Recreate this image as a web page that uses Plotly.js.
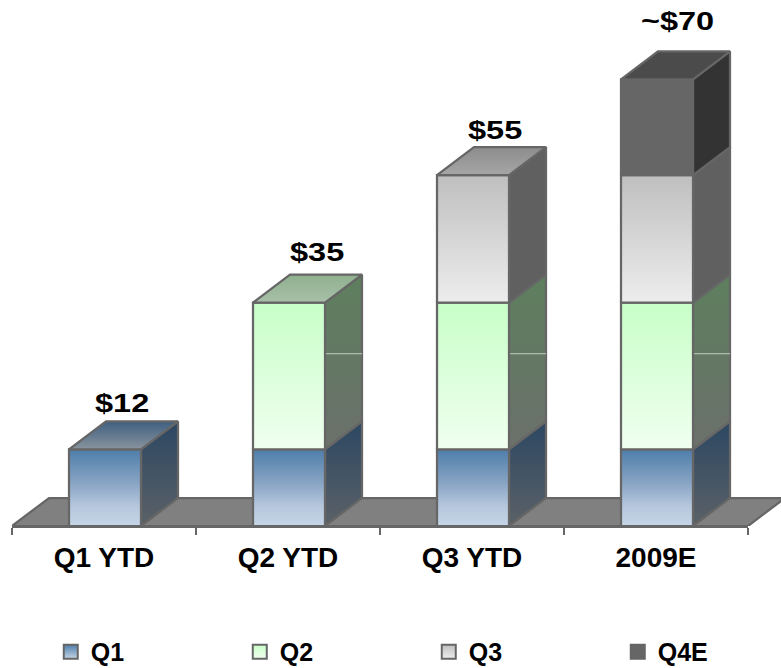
<!DOCTYPE html>
<html>
<head>
<meta charset="utf-8">
<title>Cumulative results by quarter</title>
<script src="https://cdn.plot.ly/plotly-3.0.1.min.js"></script>
<style>
  html, body { margin: 0; padding: 0; background: #fff; }
  #chart { width: 781px; height: 668px; }
  /* Value captions use a widened bold face */
  .annotation-text { transform-box: fill-box; transform-origin: center; transform: scaleX(1.3); }
</style>
</head>
<body>
<div id="chart"></div>
<script>
// Stacked segments per column
const categories = ['Q1 YTD', 'Q2 YTD', 'Q3 YTD', '2009E'];
const seriesNames = ['Q1', 'Q2', 'Q3', 'Q4E'];
const q1 = [12, 12, 12, 12];
const q2 = [0, 23, 23, 23];
const q3 = [0, 0, 20, 20];
const q4e = [0, 0, 0, 15];
const totalLabels = ['$12', '$35', '$55', '~$70'];
const labelNudgeX = [17, 28, 22, 20];
const labelNudgeY = [1, 6, 0, 13];
const sideGlintLevel = 27;

// Scale and oblique projection
const pxPerUnit = 6.38;
const plotHeightPx = 526;
const pxPerCategory = 184;
const depthX = 37 / pxPerCategory;
const depthY = 28 / pxPerUnit;
const halfBar = 36 / pxPerCategory;
const centerShift = 1 / pxPerCategory;
const plotWidthPx = 769;
const axisWidthPx = 736;
const edge = '#666666';

// Face colours, listed bottom to top of each face
const faces = [
  { front: [[0, '#c5d5e6'], [0.25, '#b6c8de'], [0.55, '#8aa5c4'], [1, '#4e7eab']],
    side: [[0, '#5b6167'], [1, '#2c4762']], top: [[0, '#8a949e'], [1, '#3e5f80']],
    marker: '#4e7eab', markerEnd: '#c5d5e6' },
  { front: [[0, '#f0fff0'], [1, '#c8ffc8']],
    side: [[0, '#6b706b'], [1, '#5e7f5e']], top: [[0, '#a8c0a8'], [1, '#8fb08f']],
    marker: '#c8ffc8', markerEnd: '#f0fff0' },
  { front: [[0, '#ededed'], [1, '#bfbfbf']],
    side: [[0, '#606060'], [1, '#606060']], top: [[0, '#a6a6a6'], [1, '#8c8c8c']],
    marker: '#bfbfbf', markerEnd: '#ededed' },
  { front: [[0, '#666666'], [1, '#666666']],
    side: [[0, '#333333'], [1, '#333333']], top: [[0, '#4b4b4b'], [1, '#4b4b4b']],
    marker: '#666666', markerEnd: '#666666' }
];

function polygon(xs, ys, scale) {
  return {
    x: xs.concat(xs[0]), y: ys.concat(ys[0]),
    type: 'scatter', mode: 'lines', fill: 'toself',
    fillgradient: { type: 'vertical', colorscale: scale },
    line: { color: edge, width: 2.25 },
    cliponaxis: false, showlegend: false, hoverinfo: 'skip'
  };
}

const traces = [];

// Floor slab
traces.push(polygon(
  [-0.5, 3.5, 3.5 + depthX, -0.5 + depthX],
  [0, 0, depthY, depthY],
  [[0, '#808080'], [1, '#808080']]
));

// Columns: side faces first, then fronts, then the cap
const stacks = [q1, q2, q3, q4e];
categories.forEach((_, c) => {
  const left = c - halfBar + centerShift;
  const right = c + halfBar + centerShift;
  let base = 0, topIdx = 0;
  stacks.forEach((vals, s) => {
    if (!vals[c]) return;
    const t = base + vals[c];
    traces.push(polygon(
      [right, right + depthX, right + depthX, right],
      [base, base + depthY, t + depthY, t], faces[s].side));
    if (s === 1) {
      traces.push({
        x: [right, right + depthX], y: [sideGlintLevel, sideGlintLevel],
        type: 'scatter', mode: 'lines', line: { color: '#c4cfc4', width: 1 },
        cliponaxis: false, showlegend: false, hoverinfo: 'skip'
      });
    }
    traces.push(polygon([left, right, right, left], [base, base, t, t], faces[s].front));
    base = t;
    topIdx = s;
  });
  traces.push(polygon(
    [left, right, right + depthX, left + depthX],
    [base, base, base + depthY, base + depthY], faces[topIdx].top));
});

// Legend keys
seriesNames.forEach((name, s) => {
  traces.push({
    x: [null], y: [null], name: name, type: 'scatter', mode: 'markers',
    marker: {
      symbol: 'square', size: 14, color: faces[s].marker,
      gradient: { type: 'vertical', color: faces[s].markerEnd },
      line: { color: edge, width: 2 }
    }
  });
});

// Category axis carrier
traces.push({
  x: categories, y: [0, 0, 0, 0], xaxis: 'x2', type: 'scatter', mode: 'none',
  showlegend: false, hoverinfo: 'skip'
});

const totals = categories.map((_, c) => stacks.reduce((sum, v) => sum + v[c], 0));
const annotations = categories.map((_, c) => ({
  x: c + centerShift, y: totals[c] + depthY, xref: 'x', yref: 'y',
  text: totalLabels[c], showarrow: false, yanchor: 'bottom',
  xshift: labelNudgeX[c], yshift: labelNudgeY[c],
  font: { family: 'Liberation Sans', size: 25, color: '#000', weight: 700 }
}));

const layout = {
  width: 781, height: 668,
  margin: { l: 12, r: 0, t: 0, b: 142 },
  paper_bgcolor: '#ffffff', plot_bgcolor: 'rgba(0,0,0,0)',
  showlegend: true,
  xaxis: { range: [-0.5, plotWidthPx / pxPerCategory - 0.5], visible: false, fixedrange: true },
  xaxis2: {
    type: 'category', domain: [0, axisWidthPx / plotWidthPx], anchor: 'y', side: 'bottom',
    categoryorder: 'array', categoryarray: categories,
    range: [-0.5, 3.5], tickson: 'boundaries',
    ticks: 'outside', ticklen: 7, tickwidth: 2, tickcolor: edge,
    showline: true, linecolor: edge, linewidth: 2, showgrid: false,
    ticklabelstandoff: 5, fixedrange: true,
    tickfont: { family: 'Liberation Sans', size: 28, color: '#000', weight: 700 }
  },
  yaxis: { range: [0, plotHeightPx / pxPerUnit], visible: false, fixedrange: true },
  legend: {
    orientation: 'h', xref: 'container', yref: 'container',
    x: 0.065, xanchor: 'left', y: 0.024, yanchor: 'middle',
    entrywidth: 144, entrywidthmode: 'pixels', traceorder: 'normal',
    itemclick: false, itemdoubleclick: false,
    font: { family: 'Liberation Sans', size: 25, color: '#000', weight: 700 }
  },
  annotations: annotations
};

Plotly.newPlot('chart', traces, layout, { displayModeBar: false, staticPlot: true });
</script>
</body>
</html>
